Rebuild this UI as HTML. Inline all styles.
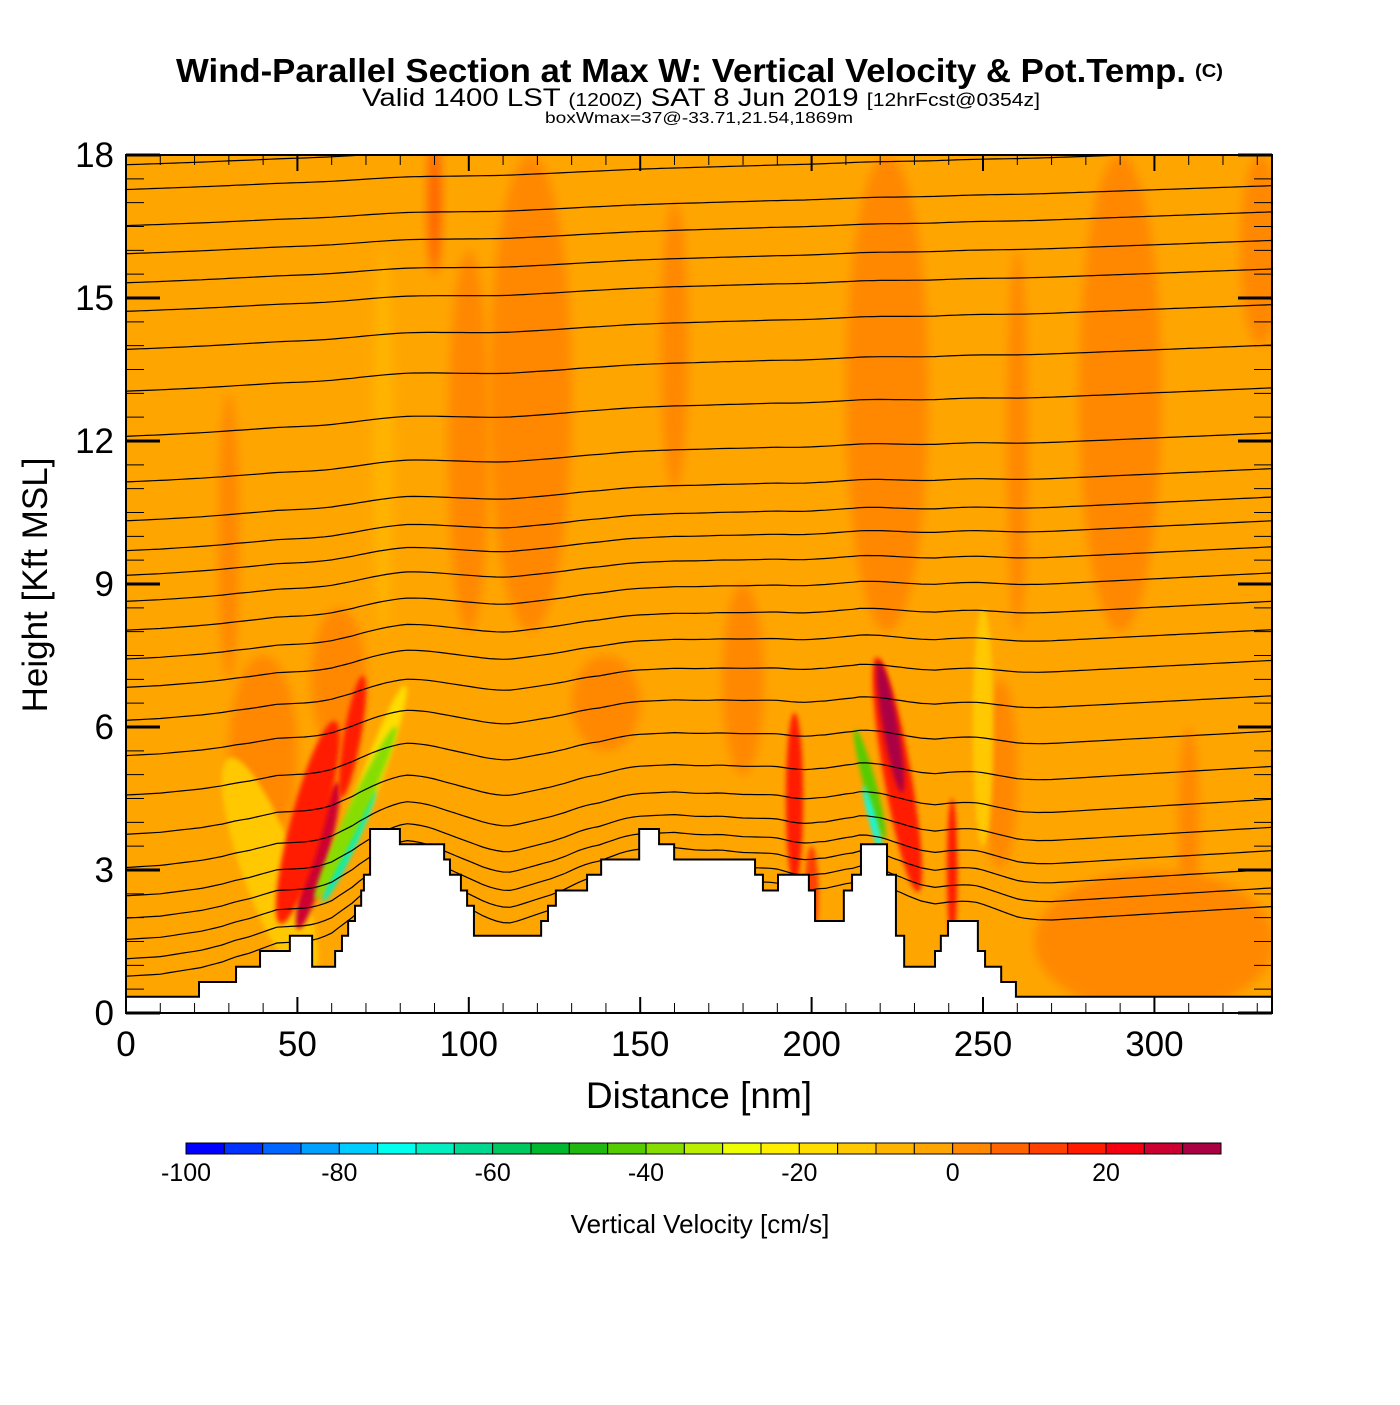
<!DOCTYPE html>
<html><head><meta charset="utf-8">
<style>
html,body{margin:0;padding:0;background:#fff;}
svg text{font-family:"Liberation Sans",sans-serif;}
</style></head>
<body>
<svg id="chart" width="1400" height="1400" viewBox="0 0 1400 1400" xmlns="http://www.w3.org/2000/svg">
<defs>
  <clipPath id="plotclip"><rect x="126" y="155" width="1146" height="858"/></clipPath>
  <filter id="blur" x="-50%" y="-50%" width="200%" height="200%"><feGaussianBlur stdDeviation="5"/></filter>
  <filter id="blur2" x="-50%" y="-50%" width="200%" height="200%"><feGaussianBlur stdDeviation="2.5"/></filter>
</defs>
<g>
  <text x="176" y="82" font-size="33" font-weight="bold" textLength="1010" lengthAdjust="spacingAndGlyphs">Wind-Parallel Section at Max W: Vertical Velocity &amp; Pot.Temp.</text>
  <text x="1195" y="77" font-size="18" font-weight="bold" textLength="28" lengthAdjust="spacingAndGlyphs">(C)</text>
</g>
<text x="362" y="106" font-size="25" textLength="678" lengthAdjust="spacingAndGlyphs">Valid 1400 LST <tspan font-size="18">(1200Z)</tspan> SAT 8 Jun 2019 <tspan font-size="18">[12hrFcst@0354z]</tspan></text>
<text x="545" y="123" font-size="16" textLength="308" lengthAdjust="spacingAndGlyphs">boxWmax=37@-33.71,21.54,1869m</text>

<g id="plot" clip-path="url(#plotclip)">
  <rect x="126" y="155" width="1146" height="858" fill="#FFA500"/>
  <g id="blobs"></g>
  <g id="isen"></g>
  <path id="terrain" fill="#fff" stroke="#000" stroke-width="2"/>
</g>
<g id="axes"></g>
<g id="cbar"></g>
<text x="699" y="1108" font-size="37" text-anchor="middle">Distance [nm]</text>
<text transform="translate(47,585) rotate(-90)" font-size="35" text-anchor="middle">Height [Kft MSL]</text>
<text x="700" y="1233" font-size="26" text-anchor="middle">Vertical Velocity [cm/s]</text>
</svg>
<script>
// ---- data ----
const xTicks = [0,50,100,150,200,250,300];
const yTicks = [0,3,6,9,12,15,18];
const cbLevels = [-100,-95,-90,-85,-80,-75,-70,-65,-60,-55,-50,-45,-40,-35,-30,-25,-20,-15,-10,-5,0,5,10,15,20,25,30,35];
const cbLabels = [-100,-80,-60,-40,-20,0,20];
const cbColors = ["#0000FF","#0033FF","#0066FF","#00A0FF","#00CCFF","#00FFEE","#00EEC0","#00D890","#00C860","#00B830","#20B810","#55CC00","#88DD00","#BBEE00","#EEFF00","#FFEE00","#FFDD00","#FFC800","#FFB400","#FFA500","#FF8800","#FF6400","#FF4000","#FF1A00","#F50010","#CC0030","#AA0044"];
// terrain step function: start distance (nm) and height (kft)
const terrDist = [0,21.3,32.1,39.1,47.8,54.3,61.0,63.0,64.8,66.8,68.6,69.4,71.2,79.9,92.8,94.5,97.7,99.5,101.5,121.1,123.1,125.4,134.5,138.6,149.7,155.5,159.9,183.5,185.8,190.2,199.2,201,209.4,211.8,214.4,222,224.6,227,236,237.7,239.8,248.5,250.6,255.3,259.6];
const terrHgt  = [0.34,0.65,0.97,1.3,1.62,0.97,1.3,1.62,1.93,2.25,2.57,2.9,3.86,3.54,3.22,2.9,2.57,2.25,1.62,1.93,2.25,2.57,2.9,3.22,3.86,3.54,3.22,2.9,2.57,2.9,2.57,1.93,2.57,2.9,3.54,2.9,1.62,0.97,1.3,1.62,1.93,1.3,0.97,0.65,0.34];
// vertical velocity features (centre distance nm, centre height kft, value cm/s)
const wDist = [100,118,222,290,331,90,260,160,40,62,180,255,140,75,42,250,72,56,53,66,195,200,225,223,241,65,67,217,218,30,310,300];
const wHgt  = [12,13,13,13,16,17,12,14,5.5,7,7,5,6.5,12,3,6,5,3.3,4,5.8,4.5,2.5,5,6,3,3.5,4.2,4.8,4,10,4,1.5];
const wVal  = [2,2,2,2,2,8,2,2,3,3,3,3,2,-8,-12,-15,-20,27,15,18,18,12,18,32,15,-70,-40,-45,-75,2,2,2];
// feature extent (nm, kft, rotation deg)
const wRx = [6,12,12,12,6,2,3,4,10,8,6,5,10,3,8,3,3,3,5,2.5,2.5,2,4,2.2,1.5,1.8,2.5,1.8,1,3,3,35];
const wRy = [4,5,5,5,2,1.5,4,3,2,1.5,2,2,1,4,2.5,2.5,2,1.6,2.2,1.3,1.8,1,2.5,1.4,1.5,1.3,2,1.2,0.8,3,2,1.5];
const wRot = [0,0,0,0,0,0,0,0,0,0,0,0,0,0,-20,0,20,15,15,10,0,0,-10,-10,0,25,25,-15,-15,0,0,0];
// potential temperature isentropes: height at left and right edges (kft)
const thetaLeft  = [17.79,17.27,16.51,15.92,15.31,14.71,13.91,13.03,12.08,11.12,10.30,9.67,9.15,8.60,7.99,7.38,6.78,6.08,5.33,4.49,3.65,2.94,2.33,1.85,1.39,0.97,0.59];
const thetaRight = [18.6,18.1,17.35,16.8,16.2,15.6,14.85,14.0,13.1,12.15,11.4,10.8,10.3,9.75,9.2,8.6,8.0,7.35,6.6,5.85,5.1,4.4,3.8,3.3,2.9,2.5,2.1];

// ---- axes functions ----
const X0=126,X1=1272,Y0=1013,Y1=155,XMAX=334.3,YMAX=18;
const sx = d => X0 + d/XMAX*(X1-X0);
const sy = h => Y0 - h/YMAX*(Y0-Y1);
const cx = v => 186 + (v+100)/135*(1221-186);
function colorFor(v){let i=Math.floor((v+100)/5);i=Math.max(0,Math.min(cbColors.length-1,i));return cbColors[i];}
const NS='http://www.w3.org/2000/svg';
function mk(tag,parent,attrs){const e=document.createElementNS(NS,tag);for(const k in attrs)e.setAttribute(k,attrs[k]);parent.appendChild(e);return e;}
function terrAt(d){let h=terrHgt[0];for(let i=0;i<terrDist.length;i++){if(d>=terrDist[i])h=terrHgt[i];}return h;}

// velocity features
const blobs=document.getElementById('blobs');
for(let i=0;i<wDist.length;i++){
  const pxRx=wRx[i]/XMAX*(X1-X0), pxRy=wRy[i]/YMAX*(Y0-Y1);
  const e=mk('ellipse',blobs,{cx:sx(wDist[i]),cy:sy(wHgt[i]),rx:pxRx,ry:pxRy,fill:colorFor(wVal[i]),
    transform:`rotate(${wRot[i]} ${sx(wDist[i])} ${sy(wHgt[i])})`,filter:Math.abs(wVal[i])>10?'url(#blur2)':'url(#blur)'});
  
  
}

// isentropes
const isen=document.getElementById('isen');
for(let j=0;j<thetaLeft.length;j++){
  let pts=[];
  for(let d=0;d<=XMAX;d+=2){
    const t=d/XMAX;
    const base=thetaLeft[j]+(thetaRight[j]-thetaLeft[j])*t;
    let s=0,n=0;for(let k=-10;k<=10;k+=2){s+=terrAt(Math.max(0,Math.min(XMAX,d+k)));n++;}
    const h=base+0.6*Math.exp(-base/5)*(s/n);
    pts.push(sx(d).toFixed(1)+','+sy(h).toFixed(1));
  }
  const p=mk('polyline',isen,{points:pts.join(' '),fill:'none',stroke:'#000','stroke-width':1.2});
  
  
}

// terrain
let dpath=`M${X0},${Y0+2}`;
for(let i=0;i<terrDist.length;i++){
  const x=sx(terrDist[i]);const xn=i+1<terrDist.length?sx(terrDist[i+1]):X1+2;
  dpath+=` L${x},${sy(terrHgt[i])} L${xn},${sy(terrHgt[i])}`;
}
dpath+=` L${X1+2},${Y0+2} Z`;
document.getElementById('terrain').setAttribute('d',dpath);

// axes
const ax=document.getElementById('axes');
const frame=mk('rect',ax,{x:X0,y:Y1,width:X1-X0,height:Y0-Y1,fill:'none',stroke:'#000','stroke-width':2});


for(let d=0;d<=330;d+=10){
  const major=d%50===0, L=major?16:10;
  mk('line',ax,{x1:sx(d),y1:Y0,x2:sx(d),y2:Y0-L,stroke:'#000','stroke-width':major?2:1});
  mk('line',ax,{x1:sx(d),y1:Y1,x2:sx(d),y2:Y1+L,stroke:'#000','stroke-width':major?2:1});
}
for(let h=0;h<=18;h+=0.5){
  const major=h%3===0, L=major?34:18;
  mk('line',ax,{x1:X0,y1:sy(h),x2:X0+L,y2:sy(h),stroke:'#000','stroke-width':major?3:1});
  mk('line',ax,{x1:X1,y1:sy(h),x2:X1-L,y2:sy(h),stroke:'#000','stroke-width':major?3:1});
}
xTicks.forEach(v=>{
  const t=mk('text',ax,{x:sx(v),y:1056,'font-size':35,'text-anchor':'middle'});t.textContent=v;
  
  
});
yTicks.forEach(v=>{
  const t=mk('text',ax,{x:114,y:sy(v)+12,'font-size':35,'text-anchor':'end'});t.textContent=v;
  
  
});

// colorbar
const cb=document.getElementById('cbar');
for(let i=0;i<cbColors.length;i++){
  const r=mk('rect',cb,{x:cx(cbLevels[i]),y:1143,width:cx(cbLevels[i+1])-cx(cbLevels[i]),height:11,fill:cbColors[i],stroke:'#000','stroke-width':1});
  
  
}
cbLabels.forEach(v=>{
  const t=mk('text',cb,{x:cx(v),y:1181,'font-size':25,'text-anchor':'middle'});t.textContent=v;
  
  
});
</script>
</body></html>
